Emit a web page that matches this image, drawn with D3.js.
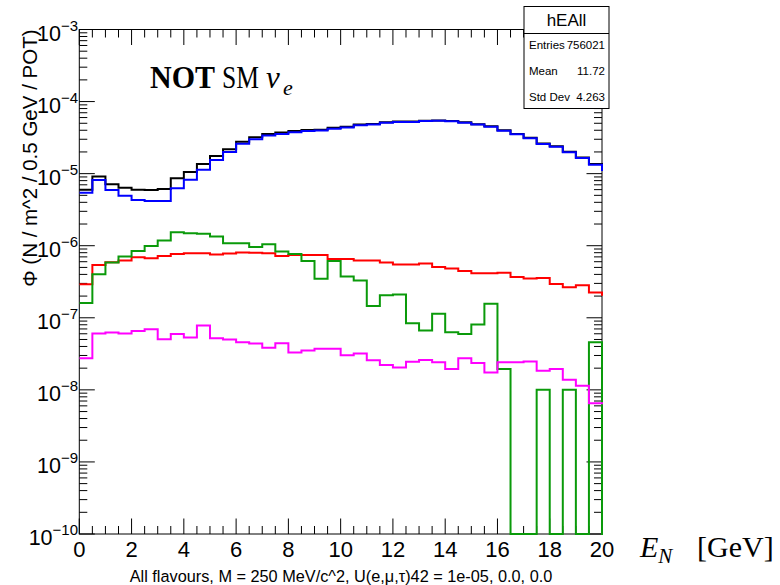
<!DOCTYPE html>
<html>
<head>
<meta charset="utf-8">
<script src="https://cdn.jsdelivr.net/npm/d3@7"></script>
<style>
  body { margin: 0; background: #fff; }
  svg { display: block; }
</style>
</head>
<body>
<svg id="chart" width="780" height="585"></svg>
<script>
// Neutrino flux per 0.5 GeV bin, 0–20 GeV; the last entry of each list is the bin just past 20 GeV
const binWidth = 0.5;
const fluxTotal = [6.0e-6, 9.1e-6, 7.15e-6, 6.35e-6, 6.0e-6, 5.92e-6, 6.1e-6, 8.6e-6, 1.05e-5, 1.36e-5,
  1.76e-5, 2.18e-5, 2.78e-5, 3.2e-5, 3.56e-5, 3.71e-5, 3.91e-5, 4.04e-5, 4.08e-5, 4.35e-5,
  4.49e-5, 4.79e-5, 4.89e-5, 5.16e-5, 5.27e-5, 5.27e-5, 5.43e-5, 5.46e-5, 5.39e-5, 5.15e-5,
  4.84e-5, 4.53e-5, 3.99e-5, 3.56e-5, 3.14e-5, 2.62e-5, 2.40e-5, 2.01e-5, 1.68e-5, 1.36e-5, 1.15e-5];
const fluxBlue = [5.45e-6, 8.18e-6, 5.94e-6, 4.95e-6, 4.32e-6, 4.18e-6, 4.18e-6, 6.25e-6, 8.2e-6, 1.13e-5,
  1.545e-5, 1.99e-5, 2.59e-5, 3.0e-5, 3.38e-5, 3.55e-5, 3.76e-5, 3.9e-5, 3.97e-5, 4.21e-5,
  4.38e-5, 4.69e-5, 4.8e-5, 5.08e-5, 5.19e-5, 5.2e-5, 5.36e-5, 5.40e-5, 5.33e-5, 5.10e-5,
  4.79e-5, 4.49e-5, 3.95e-5, 3.52e-5, 3.10e-5, 2.58e-5, 2.37e-5, 1.98e-5, 1.65e-5, 1.33e-5, 1.12e-5];
const fluxRed = [2.92e-7, 5.42e-7, 5.9e-7, 6.22e-7, 6.92e-7, 6.70e-7, 7.22e-7, 7.69e-7, 7.87e-7, 7.87e-7,
  7.53e-7, 7.8e-7, 8.02e-7, 8.0e-7, 7.87e-7, 7.22e-7, 7.46e-7, 7.46e-7, 7.46e-7, 6.56e-7,
  6.56e-7, 6.22e-7, 6.22e-7, 5.83e-7, 5.47e-7, 5.47e-7, 5.65e-7, 5.05e-7, 4.81e-7, 4.47e-7,
  4.15e-7, 4.15e-7, 4.23e-7, 3.69e-7, 3.50e-7, 3.56e-7, 2.95e-7, 2.66e-7, 2.83e-7, 2.24e-7, 2.08e-7];
const fluxGreen = [1.60e-7, 4.03e-7, 5.83e-7, 7.06e-7, 8.47e-7, 9.94e-7, 1.18e-6, 1.54e-6, 1.49e-6, 1.46e-6,
  1.34e-6, 1.08e-6, 1.08e-6, 9.6e-7, 1.05e-6, 8.28e-7, 7.69e-7, 6.15e-7, 3.47e-7, 6.15e-7,
  3.73e-7, 3.3e-7, 1.46e-7, 2.06e-7, 2.10e-7, 8.41e-8, 6.65e-8, 1.14e-7, 6.31e-8, 5.98e-8,
  8.05e-8, 1.57e-7, 1.94e-8, 0, 0, 1.0e-8, 0, 1.0e-8, 0, 4.59e-8, 0];
const fluxMagenta = [2.75e-8, 6.04e-8, 6.24e-8, 6.04e-8, 6.58e-8, 6.95e-8, 5.05e-8, 5.98e-8, 5.31e-8, 7.80e-8,
  5.21e-8, 4.99e-8, 4.59e-8, 4.40e-8, 3.83e-8, 4.43e-8, 3.29e-8, 3.51e-8, 3.71e-8, 3.71e-8,
  3.03e-8, 3.19e-8, 2.58e-8, 2.22e-8, 2.04e-8, 2.45e-8, 2.60e-8, 2.42e-8, 1.94e-8, 2.75e-8,
  2.35e-8, 1.74e-8, 2.42e-8, 2.42e-8, 2.47e-8, 1.84e-8, 1.94e-8, 1.38e-8, 1.14e-8, 6.54e-9, 6.5e-9];

const xTickValues = [0, 2, 4, 6, 8, 10, 12, 14, 16, 18, 20];
const yDecadeExponents = [-10, -9, -8, -7, -6, -5, -4, -3];

const statsTitle = "hEAll";
const statsRows = [["Entries", "756021"], ["Mean", "11.72"], ["Std Dev", "4.263"]];
const bottomCaption = "All flavours, M = 250 MeV/c^2, U(e,\u03bc,\u03c4)42 = 1e-05, 0.0, 0.0";
const yTitle = "\u03a6 (N / m^2 / 0.5 GeV / POT)";

const series = [
  { values: fluxTotal, color: "#000000" },
  { values: fluxBlue, color: "#0000ff" },
  { values: fluxRed, color: "#ff0000" },
  { values: fluxGreen, color: "#0a9a0a" },
  { values: fluxMagenta, color: "#ff00ff" }
];

const frame = { left: 79.3, right: 602, top: 29.5, bottom: 534 };
const sans = "'Liberation Sans', Arial, Helvetica, sans-serif";
const serif = "'Liberation Serif', 'Times New Roman', serif";

const svg = d3.select("#chart");
const x = d3.scaleLinear().domain([0, 20]).range([frame.left, frame.right]);
const y = d3.scaleLog().domain([1e-10, 1e-3]).range([frame.bottom, frame.top]);
const yMin = 1e-10;

// frame box
svg.append("rect")
  .attr("x", frame.left).attr("y", frame.top)
  .attr("width", frame.right - frame.left).attr("height", frame.bottom - frame.top)
  .attr("fill", "none").attr("stroke", "#000").attr("stroke-width", 1);

// x ticks (bottom and top), majors every 2 GeV, minors every 0.5 GeV
const xMinor = d3.range(0, 20.001, 0.5).filter(v => Math.abs(v % 2) > 1e-6);
const tickG = svg.append("g").attr("stroke", "#000").attr("stroke-width", 1);
xTickValues.forEach(v => {
  const px = x(v);
  tickG.append("line").attr("x1", px).attr("x2", px).attr("y1", frame.bottom).attr("y2", frame.bottom - 15.5);
  tickG.append("line").attr("x1", px).attr("x2", px).attr("y1", frame.top).attr("y2", frame.top + 15.5);
});
xMinor.forEach(v => {
  const px = x(v);
  tickG.append("line").attr("x1", px).attr("x2", px).attr("y1", frame.bottom).attr("y2", frame.bottom - 8);
  tickG.append("line").attr("x1", px).attr("x2", px).attr("y1", frame.top).attr("y2", frame.top + 8);
});

// y ticks (left and right), decades plus 2..9 sub-ticks
yDecadeExponents.forEach(e => {
  const py = y(Math.pow(10, e));
  tickG.append("line").attr("x1", frame.left).attr("x2", frame.left + 15.5).attr("y1", py).attr("y2", py);
  tickG.append("line").attr("x1", frame.right).attr("x2", frame.right - 15.5).attr("y1", py).attr("y2", py);
  if (e < -3) {
    for (let k = 2; k <= 9; k++) {
      const pm = y(k * Math.pow(10, e));
      tickG.append("line").attr("x1", frame.left).attr("x2", frame.left + 8).attr("y1", pm).attr("y2", pm);
      tickG.append("line").attr("x1", frame.right).attr("x2", frame.right - 8).attr("y1", pm).attr("y2", pm);
    }
  }
});

// x tick labels
svg.append("g").selectAll("text").data(xTickValues).join("text")
  .attr("x", d => x(d)).attr("y", 557)
  .attr("text-anchor", "middle")
  .attr("font-family", sans).attr("font-size", 22)
  .text(d => d);

// y tick labels: 10^n
const yLab = svg.append("g").attr("font-family", sans);
yDecadeExponents.forEach(e => {
  const t = yLab.append("text")
    .attr("x", 78).attr("y", y(Math.pow(10, e)) + 11)
    .attr("text-anchor", "end").attr("font-size", 21.5);
  t.append("tspan").text("10");
  t.append("tspan").attr("font-size", 15).attr("dy", -10).text("\u2212" + Math.abs(e));
});

// histograms as step outlines, clipped to the frame
svg.append("clipPath").attr("id", "frameClip")
  .append("rect")
  .attr("x", frame.left).attr("y", frame.top - 1)
  .attr("width", frame.right - frame.left + 1).attr("height", frame.bottom - frame.top + 2.5);

const stepLine = d3.line()
  .x(d => x(d[0]))
  .y(d => d[1] > 0 ? y(Math.max(d[1], yMin)) : y(yMin))
  .curve(d3.curveStepAfter);

const histG = svg.append("g").attr("clip-path", "url(#frameClip)");
series.forEach(s => {
  const pts = s.values.map((v, i) => [i * binWidth, v]);
  pts.push([s.values.length * binWidth, s.values[s.values.length - 1]]);
  histG.append("path")
    .attr("d", stepLine(pts))
    .attr("fill", "none")
    .attr("stroke", s.color)
    .attr("stroke-width", 2)
    .attr("stroke-linejoin", "miter");
});

// axis titles
svg.append("text")
  .attr("transform", "translate(36.5," + frame.top + ") rotate(-90)")
  .attr("text-anchor", "end")
  .attr("font-family", sans).attr("font-size", 20.5)
  .text(yTitle);

svg.append("text")
  .attr("x", 341).attr("y", 582)
  .attr("text-anchor", "middle")
  .attr("font-family", sans).attr("font-size", 16.3)
  .text(bottomCaption);

const eLabel = svg.append("text")
  .attr("x", 640).attr("y", 557)
  .attr("font-family", serif).attr("font-size", 30);
eLabel.append("tspan").attr("font-style", "italic").text("E");
eLabel.append("tspan").attr("font-style", "italic").attr("font-size", 21).attr("dy", 6).text("N");
eLabel.append("tspan").attr("x", 697).attr("dy", -6).text("[GeV]");

const notLabel = svg.append("text")
  .attr("y", 88)
  .attr("font-family", serif).attr("font-size", 31);
notLabel.append("tspan").attr("x", 150).attr("font-weight", "bold")
  .attr("textLength", 65).attr("lengthAdjust", "spacingAndGlyphs").text("NOT");
notLabel.append("tspan").attr("x", 222)
  .attr("textLength", 37).attr("lengthAdjust", "spacingAndGlyphs").text("SM");
notLabel.append("tspan").attr("x", 266).attr("font-style", "italic").text("\u03bd");
notLabel.append("tspan").attr("x", 283).attr("font-style", "italic").attr("font-size", 22).attr("dy", 7).text("e");

// statistics box
const sb = { x: 524, y: 6.5, w: 85, h: 102 };
const statsG = svg.append("g");
statsG.append("rect")
  .attr("x", sb.x).attr("y", sb.y).attr("width", sb.w).attr("height", sb.h)
  .attr("fill", "#fff").attr("stroke", "#000").attr("stroke-width", 1);
statsG.append("line")
  .attr("x1", sb.x).attr("x2", sb.x + sb.w).attr("y1", 33.5).attr("y2", 33.5)
  .attr("stroke", "#000").attr("stroke-width", 1);
statsG.append("text")
  .attr("x", sb.x + sb.w / 2).attr("y", 26)
  .attr("text-anchor", "middle")
  .attr("font-family", sans).attr("font-size", 17)
  .text(statsTitle);
statsRows.forEach((r, i) => {
  const by = 49 + i * 26;
  statsG.append("text").attr("x", sb.x + 5).attr("y", by)
    .attr("font-family", sans).attr("font-size", 11.5).text(r[0]);
  statsG.append("text").attr("x", sb.x + sb.w - 4).attr("y", by)
    .attr("text-anchor", "end")
    .attr("font-family", sans).attr("font-size", 11.5).text(r[1]);
});
</script>
</body>
</html>
